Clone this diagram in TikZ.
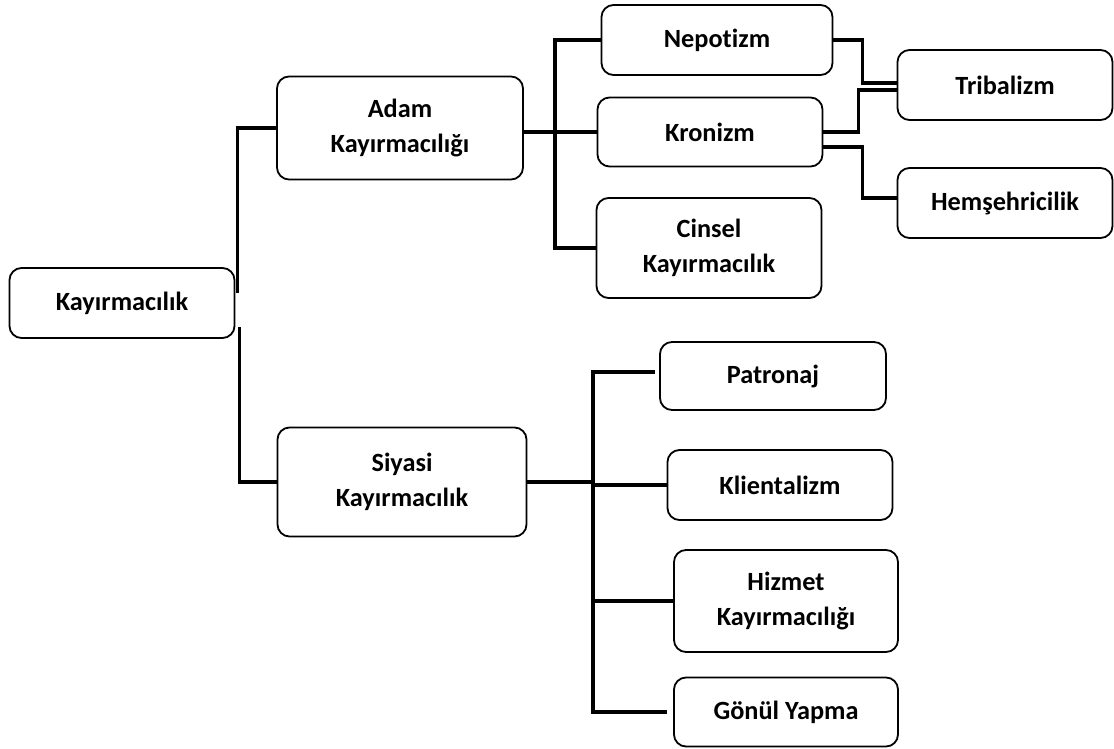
\documentclass[tikz,border=0pt]{standalone}
\usepackage{fontspec}
\setmainfont[Ligatures=NoCommon]{Carlito}
\usepackage{tikz}
\usetikzlibrary{calc,positioning}
\tikzset{
  box/.style ={rectangle, rounded corners=12pt, draw=black, line width=1.8pt,
               fill=white, align=center, inner sep=2pt,
               font=\fontsize{26.3}{35}\selectfont\bfseries},
  ln/.style  ={draw=black, line width=3.3pt}
}
\begin{document}
\begin{tikzpicture}[x=1pt,y=-1pt]
\useasboundingbox (0,0) rectangle (1114,749);

\node[box, minimum width=225pt, minimum height=70pt] (kay) at (122,303) {Kayırmacılık};

\node[box, minimum width=246pt, minimum height=103pt] (adam) at (400,128) {Adam\\Kayırmacılığı};
\node[box, minimum width=249pt, minimum height=109pt] (siy) at (402,482) {Siyasi\\Kayırmacılık};

\node[box, minimum width=231pt, minimum height=70pt] (nep) at (717,40) {Nepotizm};
\node[box, minimum width=225pt, minimum height=69pt] (kro) at (710,132) {Kronizm};
\node[box, minimum width=225pt, minimum height=100pt] (cin) at (709,248) {Cinsel\\Kayırmacılık};

\node[box, minimum width=215pt, minimum height=70pt] (tri) at (1005,85) {Tribalizm};
\node[box, minimum width=215pt, minimum height=70pt] (hem) at (1005,203) {Hemşehricilik};

\node[box, minimum width=226pt, minimum height=68pt] (pat) at (773,376) {Patronaj};
\node[box, minimum width=225pt, minimum height=70pt] (kli) at (780,485) {Klientalizm};
\node[box, minimum width=224pt, minimum height=102pt] (hiz) at (786,601) {Hizmet\\Kayırmacılığı};
\node[box, minimum width=224pt, minimum height=69pt] (gon) at (786,712) {Gönül Yapma};

% root
\draw[ln] ($(kay.east)+(2,-10)$) |- (adam.west);
\draw[ln] ($(kay.east)+(4,24)$) |- (siy.west);

% adam
\coordinate (ja) at (555,0);
\draw[ln] (adam.east |- kro.west) -- (kro.west);
\draw[ln] (nep.west) -- (nep.west -| ja) -- (cin.west -| ja) -- (cin.west);

% tribalizm, hemsehricilik
\draw[ln] (nep.east) -- ++(29,0) |- ([yshift=2pt]tri.west);
\draw[ln] (kro.east) -- ++(35,0) |- ([yshift=-5pt]tri.west);
\draw[ln] ([yshift=-15pt]kro.east) -- ++(39,0) |- ([yshift=5pt]hem.west);

% siyasi
\coordinate (js) at (593,0);
\draw[ln] (siy.east) -- (siy.east -| js);
\draw[ln] ([shift={(-4,-4)}]pat.west) -- ([yshift=4pt]pat.west -| js) -- (gon.west -| js) -- ([xshift=-6pt]gon.west);
\draw[ln] (kli.west -| js) -- (kli.west);
\draw[ln] (hiz.west -| js) -- (hiz.west);
\end{tikzpicture}
\end{document}
